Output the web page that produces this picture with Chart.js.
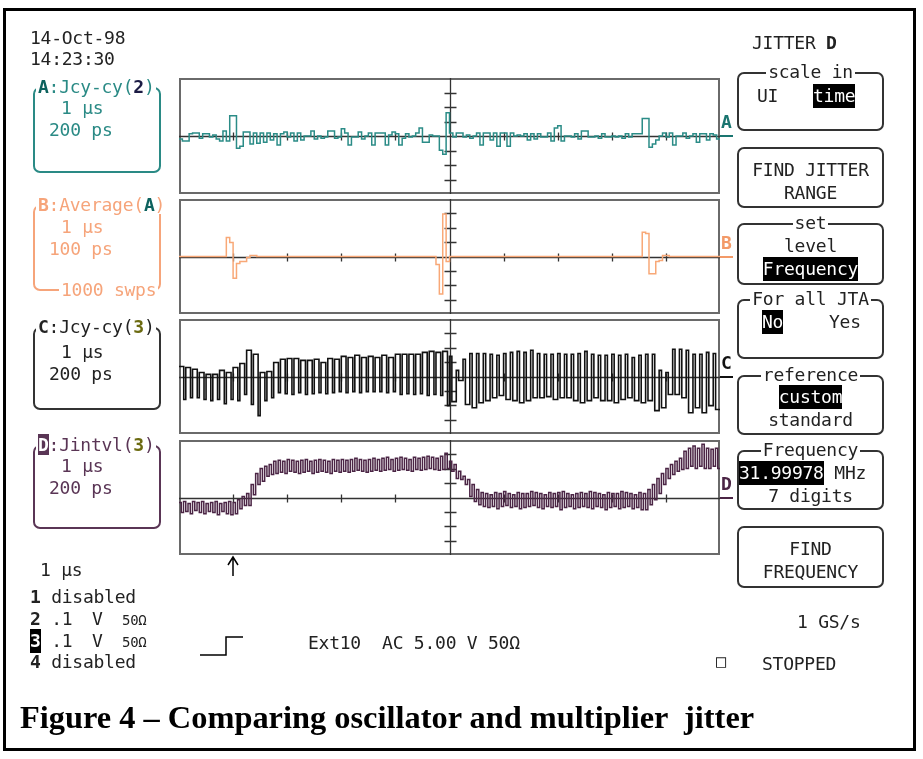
<!DOCTYPE html>
<html>
<head>
<meta charset="utf-8">
<title>Figure 4 - Comparing oscillator and multiplier jitter</title>
<script src="https://cdn.jsdelivr.net/npm/chart.js@4.4.1/dist/chart.umd.min.js"></script>
<style>
  body { margin: 0; background: #fff; }
  #page { position: relative; width: 923px; height: 759px; overflow: hidden; background: #fff; }
  .frame { position: absolute; left: 3px; top: 8px; width: 913px; height: 743px; border: 3px solid #000; box-sizing: border-box; }
  .t { position: absolute; font-family: 'DejaVu Sans Mono', monospace; font-size: 18px; letter-spacing: -0.25px;
       line-height: 18px; white-space: pre; color: #222; }
  .box { position: absolute; border: 2px solid; border-radius: 7px; box-sizing: border-box; }
  .inv { background: #000; color: #fff; padding: 1px 0 2px 0; }
  .bg { background: #fff; padding: 0 2px; }
  canvas { position: absolute; }
  .caption { position: absolute; left: 20px; top: 701px; font-family: 'Liberation Serif', 'Times New Roman', serif;
             font-weight: bold; font-size: 32.4px; line-height: 32px; white-space: pre; color: #000; }
</style>
</head>
<body>
<div id="page">
  <div class="frame"></div>
  <canvas id="scopeA" width="541" height="116" style="left:179px;top:78px"></canvas>
  <canvas id="scopeB" width="541" height="115" style="left:179px;top:199px"></canvas>
  <canvas id="scopeC" width="541" height="115" style="left:179px;top:319px"></canvas>
  <canvas id="scopeD" width="541" height="115" style="left:179px;top:440px"></canvas>
  <svg style="position:absolute;left:0;top:0" width="923" height="759">
    <path d="M233 576 L233 558 M228 565 L233 557 L238 565" stroke="#000" stroke-width="1.5" fill="none"/>
    <path d="M200 655 L226 655 L226 637 L243 637" stroke="#000" stroke-width="1.5" fill="none"/>
  </svg>
  <div class="caption">Figure 4 – Comparing oscillator and multiplier  jitter</div>
</div>

<script>
// A: Jcy-cy(2), cycle to cycle jitter in ps, 160 steps over 10 divisions
var jitterA = [
  -40, -70, -70, 30, 40, 40, -30, 30, 30, -15,
  15, -40, -70, 70, -70, 280, 280, -170, -140, 55,
  55, -110, 40, -100, 40, -85, 40, -55, 30, -125,
  30, 55, -15, 40, -70, 40, -55, 0, 0, 70,
  -40, 0, -30, -15, 70, 70, -30, -15, 100, 40,
  -125, -15, -15, 55, -40, 0, 40, -125, 40, 40,
  40, -125, 15, 55, 30, -125, -30, 30, -15, 0,
  40, 110, -85, -85, 15, 0, 0, -195, -250, 320,
  40, -15, 40, 40, -15, 15, -30, 0, 40, -125,
  40, 40, -55, 40, -140, 40, 40, -140, 40, 0,
  15, 0, 30, -55, 30, -40, 30, -15, -15, 40,
  -70, 110, 140, -70, 0, 0, -15, 30, -40, 70,
  70, -15, -15, 0, -30, 30, -15, -15, 0, -15,
  0, -30, 30, -15, 30, 30, 30, 240, 240, -155,
  -110, -55, 0, 40, -15, 40, -125, 0, 0, 40,
  -30, 0, 30, -85, 30, 30, -55, 30, 15, -40
];

// B: Average(A) over 1000 sweeps, ps
var averageB = [
  0, 0, 0, 0, 0, 0, 0, 0, 0, 0,
  0, 0, 0, 0, 133, 98, -152, -49, -35, -35,
  -7, 7, 7, 0, 0, 0, 0, 0, 0, 0,
  0, 0, 0, 0, 0, 0, 0, 0, 0, 0,
  0, 0, 0, 0, 0, 0, 0, 0, 0, 0,
  0, 0, 0, 0, 0, 0, 0, 0, 0, 0,
  0, 0, 0, 0, 0, 0, 0, 0, 0, 0,
  0, 0, 0, 0, 0, 0, -55, -260, 295, -35,
  0, 0, 0, 0, 0, 0, 0, 0, 0, 0,
  0, 0, 0, 0, 0, 0, 0, 0, 0, 0,
  0, 0, 0, 0, 0, 0, 0, 0, 0, 0,
  0, 0, 0, 0, 0, 0, 0, 0, 0, 0,
  0, 0, 0, 0, 0, 0, 0, 0, 0, 0,
  0, 0, 0, 0, 0, 0, 0, 168, 160, -120,
  -120, -35, -28, 7, 7, 0, 0, 0, 0, 0,
  0, 0, 0, 0, 0, 0, 0, 0, 0, 0
];

// C: Jcy-cy(3), high and low of each cycle pair, ps
var cycleHighC = [
  140, 125, 100, 55, 30, 30, 85, 55, 125, 180,
  365, 310, 55, 70, 195, 240, 250, 250, 225, 225,
  240, 195, 250, 240, 280, 265, 295, 265, 280, 265,
  295, 265, 310, 310, 310, 310, 335, 350, 335, 350,
  280, 85, 240, 320, 320, 320, 310, 295, 320, 335,
  350, 335, 365, 320, 310, 310, 320, 310, 310, 320,
  350, 310, 295, 295, 310, 295, 310, 265, 295, 310,
  310, 85, 55, 380, 380, 365, 310, 310, 335, 320
];
var cycleLowC = [
  -320, -295, -295, -320, -335, -320, -380, -320, -335, -250,
  -390, -545, -335, -295, -225, -240, -250, -225, -250, -240,
  -225, -240, -225, -210, -225, -210, -225, -210, -210, -210,
  -225, -210, -250, -240, -250, -240, -265, -250, -265, -405,
  -350, -55, -390, -435, -365, -335, -295, -265, -320, -335,
  -365, -335, -295, -295, -280, -320, -295, -295, -335, -365,
  -335, -295, -335, -335, -365, -320, -295, -335, -365, -335,
  -475, -435, -250, -250, -295, -505, -435, -505, -405, -460
];

// D: Jintvl(3), high and low of each interval pair, ps
var intervalHighD = [
  -70, -55, -85, -55, -70, -55, -85, -70, -55, -85,
  -70, -55, -70, -30, 15, 55, 180, 335, 405, 435,
  460, 505, 520, 505, 530, 520, 505, 520, 530, 505,
  520, 530, 520, 505, 530, 520, 530, 520, 530, 545,
  530, 520, 530, 545, 530, 545, 560, 530, 545, 560,
  545, 530, 560, 545, 560, 575, 560, 545, 575, 615,
  505, 460, 365, 295, 250, 180, 110, 70, 55, 40,
  70, 55, 85, 55, 40, 70, 55, 55, 85, 70,
  55, 40, 70, 55, 70, 85, 55, 40, 55, 70,
  55, 85, 70, 55, 40, 70, 55, 55, 85, 70,
  55, 40, 70, 55, 110, 180, 265, 335, 405, 460,
  505, 545, 645, 685, 715, 685, 740, 685, 670, 685
];
var intervalLowD = [
  -210, -195, -225, -180, -210, -225, -195, -210, -240, -195,
  -225, -240, -225, -155, -110, -110, 40, 180, 225, 295,
  320, 335, 350, 335, 365, 350, 335, 350, 365, 335,
  350, 365, 350, 335, 365, 350, 365, 350, 365, 380,
  365, 350, 365, 380, 365, 380, 390, 365, 380, 390,
  380, 365, 390, 380, 390, 405, 390, 380, 390, 405,
  365, 265, 250, 180, 15, -55, -100, -125, -140, -125,
  -155, -125, -110, -140, -125, -155, -140, -125, -110, -140,
  -155, -125, -140, -125, -170, -140, -125, -155, -140, -125,
  -140, -155, -125, -140, -170, -140, -125, -155, -140, -125,
  -155, -140, -170, -170, -100, -30, 55, 180, 265, 320,
  365, 390, 405, 435, 405, 435, 405, 405, 435, 405
];

var page = document.getElementById('page');

// text helper, cy is the vertical centre of the capitals
function put(x, cy, html, css) {
  var d = document.createElement('div');
  d.className = 't';
  d.innerHTML = html;
  d.style.left = x + 'px';
  d.style.top = (cy - 9) + 'px';
  if (css) d.style.cssText += css;
  page.appendChild(d);
  return d;
}
function putMenu(cy, html, css) {
  return put(737, cy, html, 'width:147px;text-align:center;' + (css || ''));
}
function box(x, y, w, h, color) {
  var d = document.createElement('div');
  d.className = 'box';
  d.style.cssText += 'left:' + x + 'px;top:' + y + 'px;width:' + w + 'px;height:' + h + 'px;border-color:' + color;
  page.appendChild(d);
}
function line(x, y, w, h, color) {
  var d = document.createElement('div');
  d.style.cssText = 'position:absolute;left:' + x + 'px;top:' + y + 'px;width:' + w + 'px;height:' + h + 'px;background:' + color;
  page.appendChild(d);
}

var teal = '#2a8a85', peach = '#f6a47a', purple = '#5a3555';

// date / time
put(30, 38, '14-Oct-98');
put(30, 59, '14:23:30');

// trace description boxes
box(33, 87, 128, 86, teal);
put(36, 87, '<b style="color:#0d625e">A</b>:Jcy-cy(<b style="color:#1c1c44">2</b>)', 'color:' + teal + ';background:#fff;padding:0 2px');
put(61, 108, '1 µs', 'color:' + teal);
put(49, 130, '200 ps', 'color:' + teal);

box(33, 205, 128, 86, peach);
put(36, 205, '<b>B</b>:Average(<b style="color:#0d625e">A</b>)', 'color:' + peach + ';background:#fff;padding:0 2px');
put(61, 227, '1 µs', 'color:' + peach);
put(49, 249, '100 ps', 'color:' + peach);
put(59, 290, '1000 swps', 'color:' + peach + ';background:#fff;padding:0 2px');

box(33, 327, 128, 83, '#333');
put(36, 327, '<b>C</b>:Jcy-cy(<b style="color:#6b6a10">3</b>)', 'background:#fff;padding:0 2px');
put(61, 352, '1 µs');
put(49, 374, '200 ps');

box(33, 445, 128, 84, purple);
put(36, 445, '<b style="background:' + purple + ';color:#fff">D</b>:Jintvl(<b style="color:#6b6a10">3</b>)', 'color:' + purple + ';background:#fff;padding:0 2px');
put(61, 466, '1 µs', 'color:' + purple);
put(49, 488, '200 ps', 'color:' + purple);

// channel list
put(40, 570, '1 µs');
put(30, 597, '<b>1</b> disabled');
put(30, 619, '<b>2</b> .1');
put(30, 641, '<b class="inv">3</b> .1');
put(30, 662, '<b>4</b> disabled');
put(92, 619, 'V');
put(92, 641, 'V');
put(122, 620, '50Ω', 'font-size:14px');
put(122, 642, '50Ω', 'font-size:14px');
put(308, 643, 'Ext10  AC 5.00 V 50Ω');

// trace markers at the zero levels
var markers = [['A', 136, '#1a7570'], ['B', 257, '#f39a68'], ['C', 377, '#111'], ['D', 498, '#4b2545']];
markers.forEach(function(m) {
  put(721, m[1] - 14, '<b>' + m[0] + '</b>', 'color:' + m[2]);
  line(720, m[1] - 1, 13, 2, m[2]);
});

// right hand menu
put(752, 43, 'JITTER <b>D</b>');
var menuBoxes = [[72, 59, 'scale in'], [147, 61, ''], [223, 62, 'set'], [299, 60, 'For all JTA'],
                 [375, 60, 'reference'], [450, 60, 'Frequency'], [526, 62, '']];
menuBoxes.forEach(function(b) {
  box(737, b[0], 147, b[1], '#333');
  if (b[2]) putMenu(b[0], '<span class="bg">' + b[2] + '</span>');
});
put(757, 96, 'UI');
put(813, 96, '<span class="inv">time</span>');
putMenu(170, 'FIND JITTER');
putMenu(193, 'RANGE');
putMenu(246, 'level');
putMenu(269, '<span class="inv">Frequency</span>');
put(762, 322, '<span class="inv">No</span>');
put(829, 322, 'Yes');
putMenu(397, '<span class="inv">custom</span>');
putMenu(420, 'standard');
put(739, 473, '<span class="inv">31.99978</span> MHz');
putMenu(496, '7 digits');
putMenu(549, 'FIND');
putMenu(572, 'FREQUENCY');
put(797, 622, '1 GS/s');
put(716, 661, '□', 'font-size:17px');
put(762, 664, 'STOPPED');

// scope graticule: frame, centre cross and division ticks
var scopeGrid = {
  id: 'scopeGrid',
  beforeDatasetsDraw: function(chart) {
    var ctx = chart.ctx, a = chart.chartArea, x = chart.scales.x, y = chart.scales.y;
    var yDiv = y.max / 4;
    var cx = Math.round(x.getPixelForValue(5)) + 0.5;
    var cy = Math.round(y.getPixelForValue(0)) + 0.5;
    ctx.save();
    ctx.strokeStyle = '#6a6a6a';
    ctx.lineWidth = 2;
    ctx.strokeRect(a.left + 1, a.top + 1, a.width - 2, a.height - 2);
    ctx.strokeStyle = '#333';
    ctx.lineWidth = 1.3;
    ctx.beginPath();
    ctx.moveTo(cx, a.top); ctx.lineTo(cx, a.bottom);
    ctx.moveTo(a.left, cy); ctx.lineTo(a.right, cy);
    for (var i = 1; i < 10; i++) {
      var px = Math.round(x.getPixelForValue(i)) + 0.5;
      ctx.moveTo(px, cy - 4); ctx.lineTo(px, cy + 4);
    }
    for (var j = -3; j <= 3; j++) {
      var py = Math.round(y.getPixelForValue(j * yDiv)) + 0.5;
      ctx.moveTo(cx - 6, py); ctx.lineTo(cx + 6, py);
    }
    ctx.stroke();
    ctx.restore();
  }
};

function stepPoints(vals) {
  var pts = vals.map(function(v, i) { return { x: i * 10 / vals.length, y: v }; });
  pts.push({ x: 10, y: vals[vals.length - 1] });
  return pts;
}
function pairPoints(highs, lows, duty) {
  var n = highs.length, pts = [];
  for (var p = 0; p < n; p++) {
    var d = typeof duty === 'function' ? duty(p) : duty;
    pts.push({ x: p * 10 / n, y: highs[p] });
    pts.push({ x: (p + d) * 10 / n, y: lows[p] });
  }
  pts.push({ x: 10, y: lows[n - 1] });
  return pts;
}

function drawTrace(canvasId, points, color, yRange, width) {
  var ctx = document.getElementById(canvasId);
  return new Chart(ctx, {
    type: 'line',
    data: {
      datasets: [{
        data: points,
        borderColor: color,
        borderWidth: width,
        pointRadius: 0,
        stepped: true,
        fill: false
      }]
    },
    options: {
      responsive: false,
      animation: false,
      events: [],
      layout: { padding: 0 },
      plugins: { legend: { display: false }, tooltip: { enabled: false } },
      scales: {
        x: { type: 'linear', min: 0, max: 10, display: false },
        y: { type: 'linear', min: -yRange, max: yRange, display: false }
      }
    },
    plugins: [scopeGrid]
  });
}

drawTrace('scopeA', stepPoints(jitterA), '#2b8c87', 800, 1.5);
drawTrace('scopeB', stepPoints(averageB), '#f8a877', 400, 1.5);
// left half: wide high part, right half: narrow pulses
drawTrace('scopeC', pairPoints(cycleHighC, cycleLowC, function(p) { return p < 40 ? 0.7 : 0.35; }), '#111', 800, 1.6);
drawTrace('scopeD', pairPoints(intervalHighD, intervalLowD, 0.5), '#4b2545', 800, 1.5);
</script>
</body>
</html>
